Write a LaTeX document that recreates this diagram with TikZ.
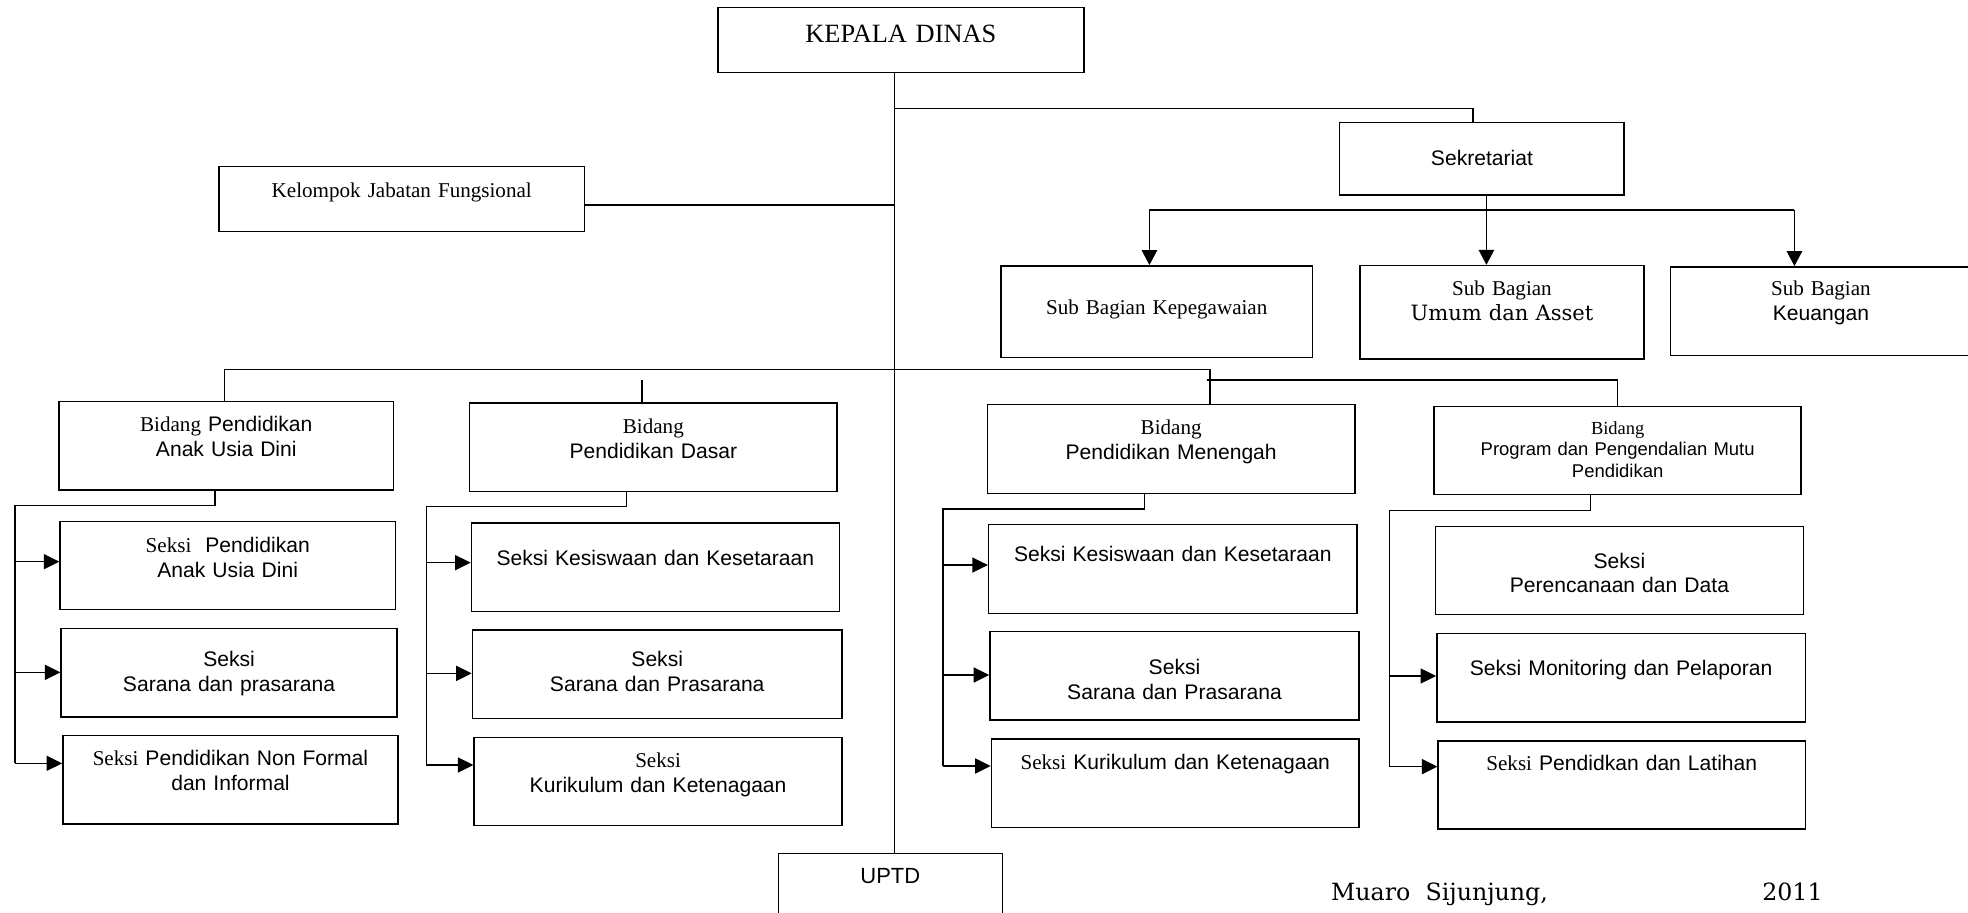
\documentclass[tikz,border=0pt]{standalone}
\usepackage{fontspec}
\setmainfont{Liberation Serif}
\setsansfont{Liberation Sans}
\newfontfamily\bookfont{DejaVu Serif}
\usepackage{tikz}
\usetikzlibrary{arrows.meta,positioning}
\newcommand{\tnr}[1]{{\rmfamily #1}}
\tikzset{
 orgbox/.style={draw,line width=0.85pt,inner sep=0pt,anchor=north west,align=center,
  font=\sffamily\fontsize{12}{14.2}\selectfont},
 link/.style={line width=0.8pt},
 spine/.style={line width=0.75pt},
 arr/.style={line width=0.8pt,-{Triangle[length=0.31cm,width=0.30cm]}},
 darr/.style={line width=0.8pt,-{Triangle[length=0.30cm,width=0.31cm]}}
}

\begin{document}
\begin{tikzpicture}[x=0.0251cm,y=-0.0251cm]
\useasboundingbox (0,0) rectangle (1568,727);
\clip (0,0) rectangle (1568,727);

% pimpinan dan sekretariat
\node[orgbox,text width=7.322cm,text height=0.700cm,text depth=0.600cm,
 font=\rmfamily\fontsize{15}{17}\selectfont] (kd) at (571.3,5.3) {KEPALA DINAS};
\node[orgbox,text width=7.304cm,text height=0.620cm,text depth=0.685cm,
 font=\rmfamily\fontsize{12}{14.2}\selectfont] (kjf) at (174,132) {Kelompok Jabatan Fungsional};
\node[orgbox,text width=5.690cm,text height=0.866cm,text depth=0.585cm] (sek) at (1066.8,97) {Sekretariat};
\node[orgbox,text width=6.225cm,text height=0.964cm,text depth=0.868cm,
 font=\rmfamily\fontsize{12}{14.2}\selectfont] (kpg) at (797,211.2) {Sub Bagian Kepegawaian};
\node[orgbox,text width=5.678cm,text height=0.602cm,text depth=1.268cm,
 font=\rmfamily\fontsize{12}{14.2}\selectfont] (uma) at (1083,211) {Sub Bagian\\{\bookfont Umum dan Asset}};
\node[orgbox,text width=6.014cm,text height=0.577cm,text depth=1.200cm,
 font=\rmfamily\fontsize{12}{14.2}\selectfont] (keu) at (1330.4,212) {Sub Bagian\\{\sffamily Keuangan}};

% bidang
\node[orgbox,text width=6.692cm,text height=0.607cm,text depth=1.167cm] (bpaud) at (46.4,319.2)
 {\tnr{Bidang} Pendidikan\\Anak Usia Dini};
\node[orgbox,text width=7.347cm,text height=0.605cm,text depth=1.162cm] (bdas) at (373.6,320.6)
 {\tnr{Bidang}\\Pendidikan Dasar};
\node[orgbox,text width=7.357cm,text height=0.607cm,text depth=1.172cm] (bmen) at (786,321.6)
 {\tnr{Bidang}\\Pendidikan Menengah};
\node[orgbox,text width=7.342cm,text height=0.555cm,text depth=1.212cm,
 font=\sffamily\fontsize{10.5}{12.3}\selectfont] (bprog) at (1142,323.2)
 {\tnr{Bidang}\\Program dan Pengendalian Mutu\\Pendidikan};

% seksi
\node[orgbox,text width=6.704cm,text height=0.612cm,text depth=1.147cm] (s1a) at (47.3,415.1)
 {\tnr{Seksi}\ \ Pendidikan\\Anak Usia Dini};
\node[orgbox,text width=6.714cm,text height=0.766cm,text depth=1.001cm] (s1b) at (48.2,500.1)
 {Seksi\\Sarana dan prasarana};
\node[orgbox,text width=6.704cm,text height=0.600cm,text depth=1.167cm] (s1c) at (49.5,585.6)
 {\tnr{Seksi} Pendidikan Non Formal\\dan Informal};
\node[orgbox,text width=7.357cm,text height=0.853cm,text depth=0.914cm] (s2a) at (375,416.2)
 {Seksi Kesiswaan dan Kesetaraan};
\node[orgbox,text width=7.392cm,text height=0.733cm,text depth=1.039cm] (s2b) at (375.8,501.4)
 {Seksi\\Sarana dan Prasarana};
\node[orgbox,text width=7.357cm,text height=0.597cm,text depth=1.167cm] (s2c) at (377.2,587)
 {\tnr{Seksi}\\Kurikulum dan Ketenagaan};
\node[orgbox,text width=7.369cm,text height=0.740cm,text depth=1.034cm] (s3a) at (787.1,417.5)
 {Seksi Kesiswaan dan Kesetaraan};
\node[orgbox,text width=7.384cm,text height=0.848cm,text depth=0.919cm] (s3b) at (788.1,502.7)
 {Seksi\\Sarana dan Prasarana};
\node[orgbox,text width=7.354cm,text height=0.602cm,text depth=1.167cm] (s3c) at (789.3,588.2)
 {\tnr{Seksi} Kurikulum dan Ketenagaan};
\node[orgbox,text width=7.357cm,text height=0.833cm,text depth=0.934cm] (s4a) at (1143.1,418.8)
 {Seksi\\Perencanaan dan Data};
\node[orgbox,text width=7.369cm,text height=0.828cm,text depth=0.934cm] (s4b) at (1144.2,504.3)
 {Seksi Monitoring dan Pelaporan};
\node[orgbox,text width=7.342cm,text height=0.600cm,text depth=1.167cm] (s4c) at (1145.3,589.6)
 {\tnr{Seksi} Pendidkan dan Latihan};

\node[orgbox,text width=4.478cm,text height=0.600cm,text depth=0.921cm,
 font=\sffamily\fontsize{12.5}{14.5}\selectfont] (uptd) at (619.6,679.4) {UPTD};
\node[anchor=base west,inner sep=0pt,font=\bookfont\fontsize{13.5}{16}\selectfont] (ttd) at (1060.3,717.6)
 {\makebox[9.83cm][l]{Muaro\ \ Sijunjung,\hfill 2011}};

% garis
\coordinate (sp) at (712.6,294.3);
\coordinate (jsek) at (712.6,86.3);
\coordinate (sl) at (915.8,167.3);
\coordinate (sm) at (1184.3,167.3);
\coordinate (sr) at (1429.7,167.3);
\coordinate (bl) at (179.1,294.3);
\coordinate (br) at (964,294.3);
\coordinate (b2) at (961.3,302.8);
\coordinate (tk) at (511.5,302.8);
\coordinate (c1) at (11.9,402.9);
\coordinate (a1a) at (11.9,447.5);
\coordinate (a1b) at (11.9,535.7);
\coordinate (a1c) at (11.9,608.2);
\coordinate (c2) at (339.6,403.7);
\coordinate (a2a) at (339.6,448.3);
\coordinate (a2b) at (339.6,536.5);
\coordinate (a2c) at (339.6,609.5);
\coordinate (c3) at (751.2,405.6);
\coordinate (a3a) at (751.2,450.2);
\coordinate (a3b) at (751.2,537.8);
\coordinate (a3c) at (751.2,610.3);
\coordinate (c4) at (1107.3,406.9);
\coordinate (a4b) at (1107.3,538.6);
\coordinate (a4c) at (1107.3,610.8);

\draw[spine] (kd.south -| sp) -- (uptd.north -| sp);
\draw[link] (jsek) -| ([xshift=-0.18cm]sek.north);
\draw[link] ([yshift=-0.12cm]kjf.east) -- ([yshift=-0.12cm]kjf.east -| sp);
\draw[link] (sl) -- (sr);
\draw[darr] (sek.south -| sm) -- (uma.north -| sm);
\draw[darr] (sl) -- (kpg.north -| sl);
\draw[darr] (sr) -- (keu.north -| sr);

\draw[link] (bpaud.north -| bl) -- (bl) -- (br) -- (bmen.north -| br);
\draw[link] (b2) -| (bprog.north);
\draw[link] (tk) -- (tk |- bdas.north);

\draw[link] ([xshift=-0.23cm]bpaud.south) |- (c1) -- (a1c);
\draw[arr] (a1a) -- (a1a -| s1a.west);
\draw[arr] (a1b) -- (a1b -| s1b.west);
\draw[arr] (a1c) -- (a1c -| s1c.west);
\draw[link] ([xshift=-0.54cm]bdas.south) |- (c2) -- (a2c);
\draw[arr] (a2a) -- (a2a -| s2a.west);
\draw[arr] (a2b) -- (a2b -| s2b.west);
\draw[arr] (a2c) -- (a2c -| s2c.west);
\draw[link] ([xshift=-0.54cm]bmen.south) |- (c3) -- (a3c);
\draw[arr] (a3a) -- (a3a -| s3a.west);
\draw[arr] (a3b) -- (a3b -| s3b.west);
\draw[arr] (a3c) -- (a3c -| s3c.west);
\draw[link] ([xshift=-0.54cm]bprog.south) |- (c4) -- (a4c);
\draw[arr] (a4b) -- (a4b -| s4b.west);
\draw[arr] (a4c) -- (a4c -| s4c.west);
\end{tikzpicture}
\end{document}
